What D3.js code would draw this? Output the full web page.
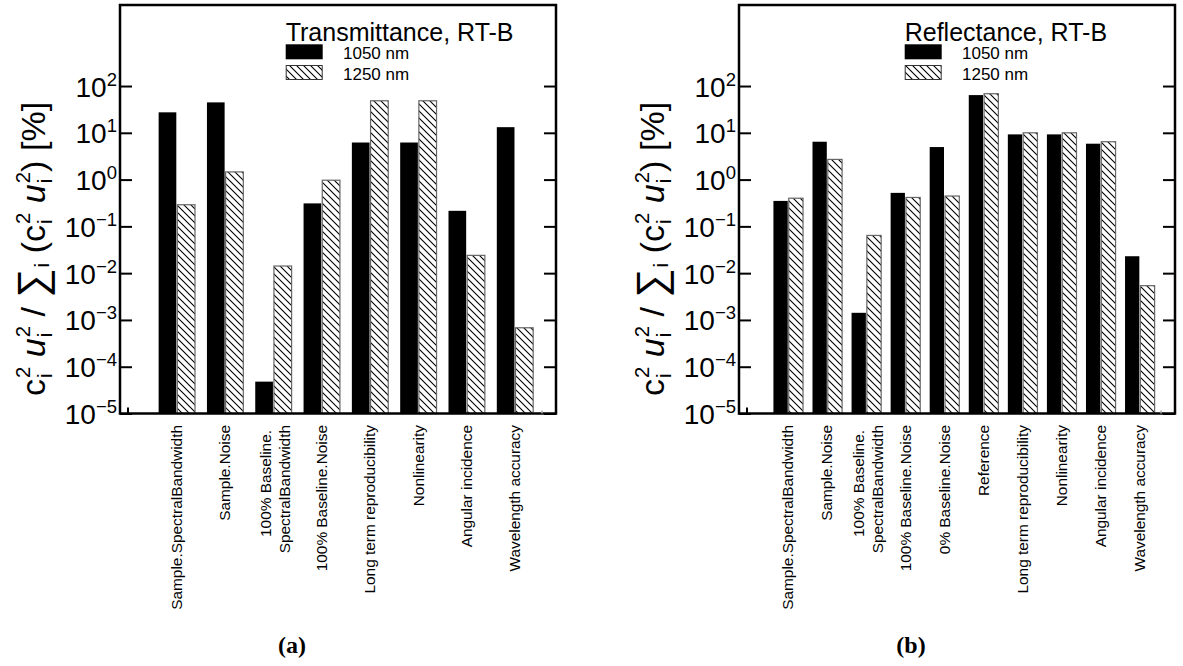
<!DOCTYPE html>
<html>
<head>
<meta charset="utf-8">
<script src="https://cdn.jsdelivr.net/npm/d3@7"></script>
<style>
  html, body { margin: 0; padding: 0; background: #fff; }
  svg { display: block; font-family: "Liberation Sans", Arial, Helvetica, sans-serif; }
</style>
</head>
<body>
<svg id="chart" width="1183" height="666"></svg>
<script>
// Relative uncertainty contributions [%] for the RT-B standard

// (a) transmittance
const catsTrans = [
  "Sample.SpectralBandwidth",
  "Sample.Noise",
  "100% Baseline.\nSpectralBandwidth",
  "100% Baseline.Noise",
  "Long term reproducibility",
  "Nonlinearity",
  "Angular incidence",
  "Wavelength accuracy"
];
const trans1050 = [27.4, 44.7, 4.8e-5, 0.31, 6.2, 6.2, 0.215, 13.2];
const trans1250 = [0.29, 1.46, 0.0142, 0.97, 48.4, 48.4, 0.024, 6.8e-4];

// (b) reflectance
const catsRefl = [
  "Sample.SpectralBandwidth",
  "Sample.Noise",
  "100% Baseline.\nSpectralBandwidth",
  "100% Baseline.Noise",
  "0% Baseline.Noise",
  "Reference",
  "Long term reproducibility",
  "Nonlinearity",
  "Angular incidence",
  "Wavelength accuracy"
];
const refl1050 = [0.35, 6.45, 1.42e-3, 0.52, 4.96, 64, 9.25, 9.25, 5.85, 0.023];
const refl1250 = [0.40, 2.7, 0.064, 0.415, 0.445, 68.5, 10, 10, 6.45, 5.4e-3];

const seriesNames = ["1050 nm", "1250 nm"];
const tickExps = [-5, -4, -3, -2, -1, 0, 1, 2];

const svg = d3.select("#chart");
const defs = svg.append("defs");

// diagonal "\\\" hatching
defs.append("pattern")
  .attr("id", "hatch")
  .attr("patternUnits", "userSpaceOnUse")
  .attr("width", 7).attr("height", 7)
  .append("path")
  .attr("d", "M-1,-1 L8,8 M-1,6 L1,8 M6,-1 L8,1")
  .attr("stroke", "#000")
  .attr("stroke-width", 1.1)
  .attr("fill", "none");

const panels = [
  { left: 120, right: 556, top: 5, bottom: 413.5, padL: 1.176, padR: 0.849,
    cats: catsTrans, s1: trans1050, s2: trans1250,
    title: "Transmittance, RT-B", tag: "(a)" },
  { left: 739, right: 1175, top: 5, bottom: 413.5, padL: 1.26, padR: 0.90,
    cats: catsRefl, s1: refl1050, s2: refl1250,
    title: "Reflectance, RT-B", tag: "(b)" }
];

function minus(e) { return e < 0 ? "\u2212" + Math.abs(e) : String(e); }

function drawYLabel(g, cx, cy, F) {
  const outer = g.append("g").attr("transform", `translate(${cx},${cy}) rotate(-90)`);
  const inner = outer.append("g");
  let x = 0;
  function piece(str, size, dy, italic) {
    const el = inner.append("text")
      .attr("x", x).attr("y", dy)
      .attr("font-size", size)
      .attr("font-style", italic ? "italic" : "normal")
      .text(str);
    return el.node().getComputedTextLength();
  }
  function stacked(base, italic) {
    x += piece(base, F, 0, italic) + 1;
    const w2 = piece("2", F * 0.6, -F * 0.42, false);
    const wi = piece("i", F * 0.6, F * 0.2, false);
    x += Math.max(w2, wi);
  }
  const sp = F * 0.28;
  stacked("c", false);
  x += sp;
  stacked("u", true);
  x += sp;
  x += piece("/", F, 0, false);
  x += sp;
  x += piece("\u2211", F * 1.2, F * 0.04, false) + 1;
  x += piece("i", F * 0.6, F * 0.12, false);
  x += sp;
  x += piece("(", F, 0, false);
  stacked("c", false);
  x += sp;
  stacked("u", true);
  x += piece(")", F, 0, false);
  x += sp;
  x += piece("[%]", F, 0, false);
  inner.attr("transform", `translate(${-x / 2},${F * 0.36})`);
}

panels.forEach(p => {
  const g = svg.append("g");
  const n = p.cats.length;

  const x = d3.scaleLinear()
    .domain([-p.padL, n - 1 + p.padR])
    .range([p.left, p.right]);
  const y = d3.scaleLog()
    .domain([1e-5, Math.pow(10, 3.732)])
    .range([p.bottom, p.top]);

  const step = x(1) - x(0);
  const bw = step * 0.366;

  // bars
  g.selectAll("rect.b1").data(p.s1).join("rect")
    .attr("class", "b1")
    .attr("x", (d, i) => x(i) - bw - 0.5)
    .attr("width", bw)
    .attr("y", d => y(d))
    .attr("height", d => p.bottom - y(d))
    .attr("fill", "#000");

  g.selectAll("rect.b2").data(p.s2).join("rect")
    .attr("class", "b2")
    .attr("x", (d, i) => x(i) + 0.5)
    .attr("width", bw)
    .attr("y", d => y(d))
    .attr("height", d => p.bottom - y(d))
    .attr("fill", "url(#hatch)")
    .attr("stroke", "#666")
    .attr("stroke-width", 1.2);

  // inward ticks on both vertical sides
  const tv = tickExps.map(e => Math.pow(10, e));
  const axL = g.append("g").attr("transform", `translate(${p.left},0)`)
    .call(d3.axisLeft(y).tickValues(tv).tickSize(-12).tickFormat(""));
  const axR = g.append("g").attr("transform", `translate(${p.right},0)`)
    .call(d3.axisRight(y).tickValues(tv).tickSize(-12).tickFormat(""));
  [axL, axR].forEach(a => {
    a.select(".domain").remove();
    a.selectAll(".tick line").attr("stroke", "#000").attr("stroke-width", 2);
  });

  // frame
  g.append("rect")
    .attr("x", p.left).attr("y", p.top)
    .attr("width", p.right - p.left).attr("height", p.bottom - p.top)
    .attr("fill", "none").attr("stroke", "#000").attr("stroke-width", 2.5);

  // short marks on the x axis
  g.append("line")
    .attr("x1", p.left + 8).attr("x2", p.left + 8)
    .attr("y1", p.bottom).attr("y2", p.bottom - 6)
    .attr("stroke", "#000").attr("stroke-width", 2);
  g.append("line")
    .attr("x1", p.right - 14).attr("x2", p.right - 14)
    .attr("y1", p.bottom).attr("y2", p.bottom - 3)
    .attr("stroke", "#aaa").attr("stroke-width", 1.5);

  // y tick labels 10^n
  tickExps.forEach(e => {
    const t = g.append("text")
      .attr("x", p.left - 3)
      .attr("y", y(Math.pow(10, e)) + 10.5)
      .attr("text-anchor", "end")
      .attr("font-size", 28)
      .attr("fill", "#000");
    t.append("tspan").text("10");
    t.append("tspan").attr("font-size", 18.5).attr("dy", -11).text(minus(e));
  });

  // y axis title
  drawYLabel(g, p.left - 87.5, 249, 34);

  // category labels
  const LF = 15.4;
  p.cats.forEach((c, i) => {
    const lines = c.split("\n");
    const gap = 18.3;
    lines.forEach((ln, k) => {
      const off = (k - (lines.length - 1) / 2) * gap + (lines.length > 1 ? 2 : 0);
      const shift = (lines.length > 1 && k === 0) ? 5 : 0;
      g.append("text")
        .attr("transform", `translate(${x(i) + off},${425 + shift}) rotate(-90) scale(1,0.93)`)
        .attr("text-anchor", "end")
        .attr("y", LF * 0.36)
        .attr("font-size", LF)
        .text(ln);
    });
  });

  // legend
  const lx = p.left + 165.7;
  g.append("text")
    .attr("x", lx).attr("y", 40.5)
    .attr("font-size", 25)
    .text(p.title);
  g.append("rect")
    .attr("x", lx).attr("y", 44.3).attr("width", 37).attr("height", 15)
    .attr("fill", "#000");
  g.append("rect")
    .attr("x", lx + 0.5).attr("y", 65.5).attr("width", 36).attr("height", 14)
    .attr("fill", "url(#hatch)").attr("stroke", "#333").attr("stroke-width", 1);
  g.append("text")
    .attr("x", lx + 57.3).attr("y", 59.3)
    .attr("font-size", 17)
    .text(seriesNames[0]);
  g.append("text")
    .attr("x", lx + 57.3).attr("y", 79.8)
    .attr("font-size", 17)
    .text(seriesNames[1]);

  // panel tag
  g.append("text")
    .attr("x", p.left + 172).attr("y", 653)
    .attr("text-anchor", "middle")
    .attr("font-family", "'Liberation Serif', 'Times New Roman', serif")
    .attr("font-weight", "bold")
    .attr("font-size", 24)
    .text(p.tag);
});
</script>
</body>
</html>
